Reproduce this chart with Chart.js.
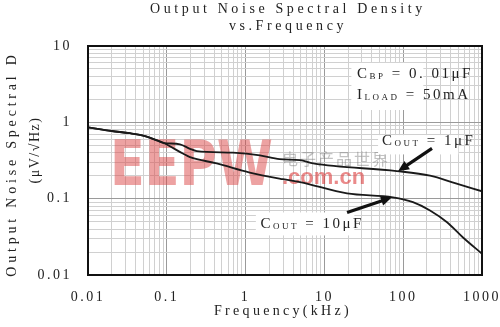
<!DOCTYPE html>
<html>
<head>
<meta charset="utf-8">
<script src="https://cdn.jsdelivr.net/npm/chart.js@4"></script>
<style>
  body { margin: 0; background: #fff; }
  #wrap { position: relative; width: 500px; height: 327px; overflow: hidden; }
  .txt { position: absolute; font-family: "Liberation Serif", serif; font-size: 14px; line-height: 16px; color: #222; white-space: nowrap; text-align: center; }
</style>
</head>
<body>
<div id="wrap">
  <canvas id="chart" width="500" height="327"></canvas>
  <div class="txt" style="left:76px;top:1px;width:424px;letter-spacing:3.6px">Output Noise Spectral Density</div>
  <div class="txt" style="left:76px;top:18px;width:424px;letter-spacing:3.6px">vs.Frequency</div>
  <div class="txt" style="left:-108px;top:156px;width:240px;letter-spacing:3.8px;transform:rotate(-90deg)">Output Noise Spectral D</div>
  <div class="txt" style="left:-15px;top:142px;width:100px;letter-spacing:1.5px;transform:rotate(-90deg)">(μV/√Hz)</div>
  <div class="txt" style="left:183px;top:303px;width:200px;letter-spacing:3.3px">Frequency(kHz)</div>
</div>
<script>
// frequency in kHz, noise in uV/rtHz
const freq1uF = [0.01, 0.02, 0.034, 0.05, 0.075, 0.09, 0.147, 0.197, 0.24, 0.69, 1.52, 2.7, 4.9, 7.2, 83, 219, 454, 1000];
const nsd1uF  = [0.86, 0.77, 0.72, 0.67, 0.58, 0.54, 0.515, 0.45, 0.42, 0.40, 0.37, 0.33, 0.32, 0.29, 0.23, 0.20, 0.16, 0.125];

const freq10uF = [0.01, 0.02, 0.034, 0.05, 0.075, 0.09, 0.16, 0.197, 0.43, 1.13, 2.98, 4.9, 19.4, 74, 133, 219, 360, 574, 1000];
const nsd10uF  = [0.86, 0.77, 0.72, 0.67, 0.58, 0.54, 0.39, 0.35, 0.29, 0.22, 0.18, 0.165, 0.117, 0.104, 0.090, 0.070, 0.049, 0.031, 0.019];

const xTickLabels = [0.01, 0.1, 1, 10, 100, 1000];
const yTickLabels = [0.01, 0.1, 1, 10];
const gridSteps = [1, 2, 3, 4, 5, 6, 7, 8, 9];

function gridValues(decades) {
  const out = [];
  decades.slice(0, -1).forEach(d => gridSteps.forEach(s => out.push(d * s)));
  out.push(decades[decades.length - 1]);
  return out;
}

function isDecade(v) {
  const l = Math.log10(v);
  return Math.abs(l - Math.round(l)) < 1e-6;
}

const serif = '"Liberation Serif", serif';

// text with subscripts, parts = [text, size, dy]
function drawParts(ctx, x, y, parts) {
  parts.forEach(p => {
    ctx.font = p[1] + 'px ' + serif;
    ctx.fillText(p[0], x, y + p[2]);
    x += ctx.measureText(p[0]).width;
  });
}

function arrow(ctx, x1, y1, x2, y2) {
  const a = Math.atan2(y2 - y1, x2 - x1);
  const len = 11;
  ctx.lineWidth = 3.2;
  ctx.beginPath();
  ctx.moveTo(x1, y1);
  ctx.lineTo(x2 - Math.cos(a) * len * 0.8, y2 - Math.sin(a) * len * 0.8);
  ctx.stroke();
  ctx.beginPath();
  ctx.moveTo(x2, y2);
  ctx.lineTo(x2 - len * Math.cos(a) + 5 * Math.sin(a), y2 - len * Math.sin(a) - 5 * Math.cos(a));
  ctx.lineTo(x2 - len * Math.cos(a) - 5 * Math.sin(a), y2 - len * Math.sin(a) + 5 * Math.cos(a));
  ctx.closePath();
  ctx.fill();
}

const spacingPlugin = {
  id: 'spacing',
  beforeLayout(chart) { chart.ctx.letterSpacing = '2.5px'; },
  beforeDraw(chart) { chart.ctx.letterSpacing = '2.5px'; }
};

const watermarkPlugin = {
  id: 'watermark',
  beforeDatasetsDraw(chart) {
    const ctx = chart.ctx;
    ctx.save();
    ctx.letterSpacing = '0px';
    ctx.fillStyle = 'rgba(220, 70, 70, 0.5)';
    ctx.font = 'bold 62px "DejaVu Sans"';
    const w = ctx.measureText('EEPW').width;
    ctx.translate(110, 185);
    ctx.scale(163 / w, 1);
    ctx.fillText('EEPW', 0, 0);
    ctx.restore();

    ctx.save();
    ctx.letterSpacing = '0px';
    ctx.fillStyle = 'rgba(220, 60, 60, 0.6)';
    ctx.font = 'bold 22px "Liberation Sans"';
    ctx.fillText('.com.cn', 282, 184);
    ctx.fillStyle = 'rgba(120, 120, 120, 0.45)';
    ctx.letterSpacing = '2px';
    ctx.font = '16px "Noto Sans CJK SC"';
    ctx.fillText('电子产品世界', 282, 165);
    ctx.restore();
  }
};

const notesPlugin = {
  id: 'notes',
  afterDatasetsDraw(chart) {
    const ctx = chart.ctx;
    const xs = chart.scales.x, ys = chart.scales.y;
    const px = f => xs.getPixelForValue(f);
    const py = v => ys.getPixelForValue(v);
    ctx.save();
    ctx.letterSpacing = '2.5px';
    ctx.textBaseline = 'alphabetic';

    // white boxes behind notes
    ctx.fillStyle = '#fff';
    ctx.fillRect(px(22), py(6), px(180) - px(22), py(1.45) - py(6));
    ctx.fillRect(px(48), py(0.68), px(500) - px(48), py(0.38) - py(0.68));
    ctx.fillRect(px(1.35), py(0.066), px(24) - px(1.35), py(0.033) - py(0.066));

    ctx.fillStyle = '#222';
    drawParts(ctx, px(26), py(3.8), [['C', 15, 0], ['BP', 9, 1], [' = 0. 01μF', 15, 0]]);
    drawParts(ctx, px(26), py(2), [['I', 15, 0], ['LOAD', 9, 1], [' = 50mA', 15, 0]]);
    drawParts(ctx, px(54), py(0.5), [['C', 15, 0], ['OUT', 9, 1], [' = 1μF', 15, 0]]);
    drawParts(ctx, px(1.55), py(0.041), [['C', 15, 0], ['OUT', 9, 1], [' = 10μF', 15, 0]]);

    ctx.strokeStyle = '#111';
    ctx.fillStyle = '#111';
    arrow(ctx, px(232), py(0.456), px(86), py(0.228));
    arrow(ctx, px(19.4), py(0.066), px(72), py(0.104));

    // frame
    const a = chart.chartArea;
    ctx.lineWidth = 2;
    ctx.strokeStyle = '#111';
    ctx.strokeRect(a.left, a.top, a.right - a.left, a.bottom - a.top);
    ctx.restore();
  }
};

const gridColor = c => (c.tick && isDecade(c.tick.value)) ? '#9a9a9a' : '#d0d0d0';

new Chart(document.getElementById('chart'), {
  type: 'line',
  data: {
    datasets: [
      {
        label: 'COUT = 1uF',
        data: freq1uF.map((f, i) => ({ x: f, y: nsd1uF[i] })),
        borderColor: '#1a1a1a',
        borderWidth: 1.8,
        pointRadius: 0,
        cubicInterpolationMode: 'monotone'
      },
      {
        label: 'COUT = 10uF',
        data: freq10uF.map((f, i) => ({ x: f, y: nsd10uF[i] })),
        borderColor: '#1a1a1a',
        borderWidth: 1.8,
        pointRadius: 0,
        cubicInterpolationMode: 'monotone'
      }
    ]
  },
  options: {
    responsive: false,
    animation: false,
    devicePixelRatio: 1,
    layout: { padding: { top: 46, right: 18, left: 0, bottom: 0 } },
    plugins: { legend: { display: false }, title: { display: false }, tooltip: { enabled: false } },
    scales: {
      x: {
        type: 'logarithmic',
        min: 0.01,
        max: 1000,
        afterBuildTicks: s => { s.ticks = gridValues(xTickLabels).map(v => ({ value: v })); },
        afterFit: s => { s.height = 52; s.paddingRight = 10; s.paddingLeft = 10; },
        border: { display: false },
        grid: { color: gridColor, lineWidth: 1, drawTicks: false },
        ticks: {
          autoSkip: false,
          maxRotation: 0,
          padding: 14,
          color: '#222',
          font: { family: serif, size: 14 },
          callback: v => isDecade(v) ? String(xTickLabels.find(t => Math.abs(t - v) / t < 1e-6)) : ''
        }
      },
      y: {
        type: 'logarithmic',
        min: 0.01,
        max: 10,
        afterBuildTicks: s => { s.ticks = gridValues(yTickLabels).map(v => ({ value: v })); },
        afterFit: s => { s.width = 88; },
        border: { display: false },
        grid: { color: gridColor, lineWidth: 1, drawTicks: false },
        ticks: {
          autoSkip: false,
          padding: 16,
          color: '#222',
          font: { family: serif, size: 14 },
          callback: v => isDecade(v) ? String(yTickLabels.find(t => Math.abs(t - v) / t < 1e-6)) : ''
        }
      }
    }
  },
  plugins: [spacingPlugin, watermarkPlugin, notesPlugin]
});
</script>
</body>
</html>
